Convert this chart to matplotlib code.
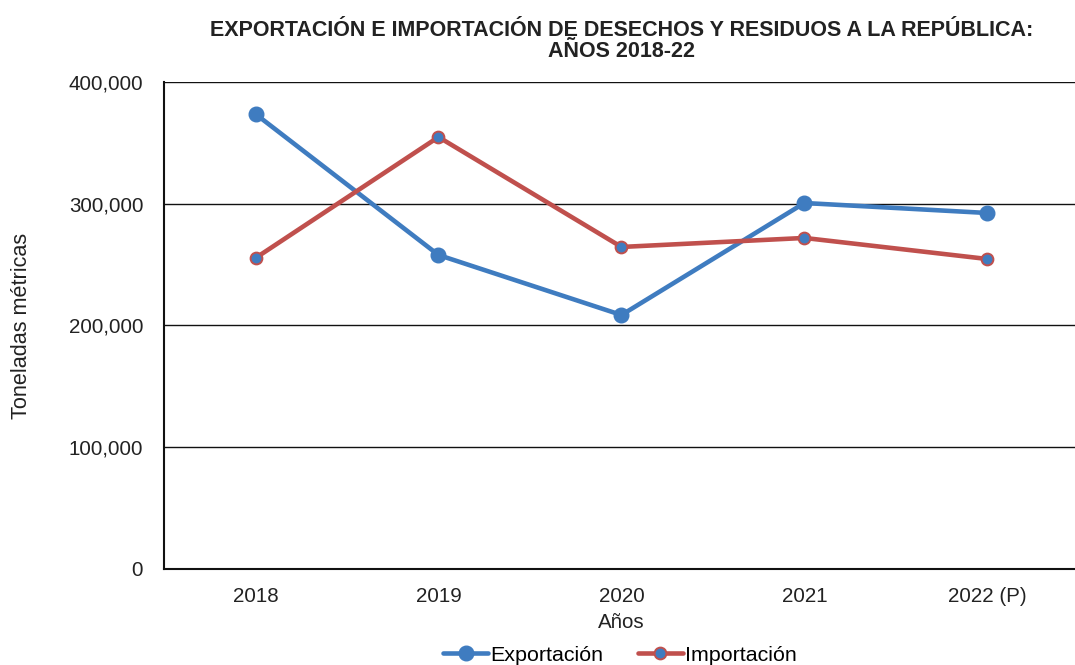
import matplotlib
matplotlib.use("Agg")
import matplotlib.pyplot as plt
from matplotlib.ticker import FuncFormatter

plt.rcParams['font.family'] = ['Liberation Sans', 'DejaVu Sans']

years = ["2018", "2019", "2020", "2021", "2022 (P)"]
exportacion = [373700, 257900, 208600, 300600, 292400]
importacion = [255400, 354800, 264500, 271900, 254600]

blue = "#3F7CC0"
red = "#C0504D"
text_color = "#222222"

fig = plt.figure(figsize=(10.75, 6.65), dpi=100)
ax = fig.add_axes([0.1526, 0.1444, 0.851, 0.7323])

x = range(len(years))
ax.plot(x, exportacion, color=blue, lw=3.3, marker="o", markersize=10.5,
        markerfacecolor=blue, markeredgecolor=blue, label="Exportación",
        solid_capstyle="round", zorder=3)
ax.plot(x, importacion, color=red, lw=3.3, marker="o", markersize=8.5,
        markerfacecolor=blue, markeredgecolor=red, markeredgewidth=1.4,
        label="Importación", solid_capstyle="round", zorder=3)

ax.set_xlim(-0.5, len(years) - 0.5)
ax.set_ylim(0, 400000)
ax.set_yticks([0, 100000, 200000, 300000, 400000])
ax.yaxis.set_major_formatter(FuncFormatter(lambda v, p: f"{int(v):,}"))
ax.set_xticks(list(x))
ax.set_xticklabels(years)
ax.tick_params(axis="both", length=0, labelsize=14.8, colors=text_color)
ax.tick_params(axis="x", pad=13)
ax.tick_params(axis="y", pad=15)

ax.grid(axis="y", color="#111111", lw=1.0)
ax.set_axisbelow(True)
for side in ["top", "right"]:
    ax.spines[side].set_visible(False)
for side in ["left", "bottom"]:
    ax.spines[side].set_color("#111111")
    ax.spines[side].set_linewidth(1.5)

ax.set_xlabel("Años", fontsize=14.8, color=text_color, labelpad=5)
ax.set_ylabel("Toneladas métricas", fontsize=15.6, color=text_color, labelpad=26)

ax.set_title("EXPORTACIÓN E IMPORTACIÓN DE DESECHOS Y RESIDUOS A LA REPÚBLICA:\nAÑOS 2018-22",
             fontsize=15.5, fontweight="bold", color=text_color, pad=18, linespacing=0.97)

fig.legend(loc="center", bbox_to_anchor=(0.5767, 0.015), ncol=2, frameon=False,
           fontsize=15.4, handlelength=2.1, handletextpad=0.1, columnspacing=1.6)

fig.savefig("out.png", dpi=100, facecolor="white")
